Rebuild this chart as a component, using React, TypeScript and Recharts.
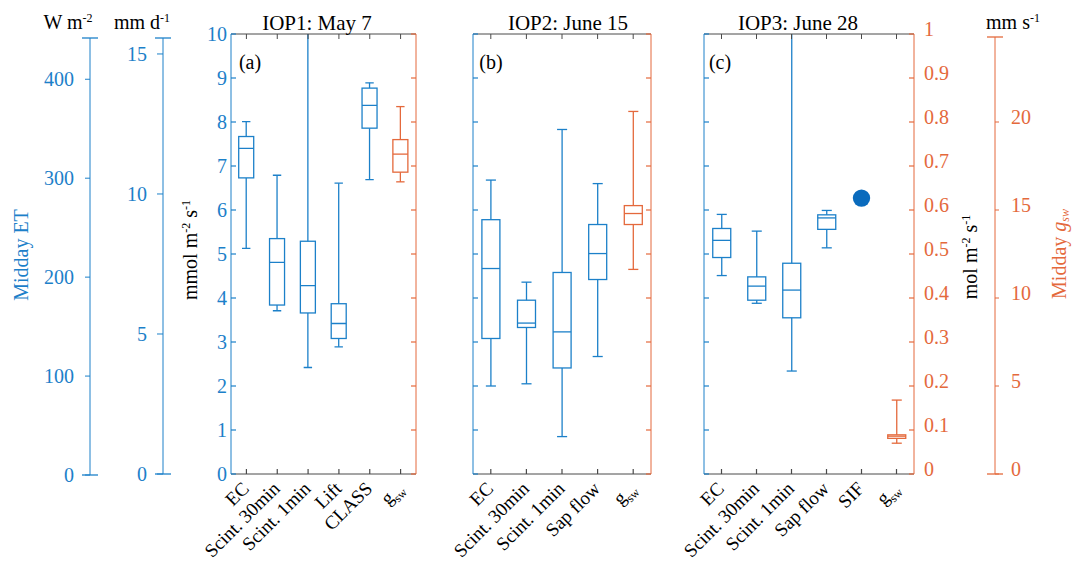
import React from 'react';
import { ComposedChart, Bar, Line, XAxis, YAxis } from 'recharts';

const SERIF = '"Liberation Serif", "Times New Roman", serif';
const BLUE = '#1c80c9';
const ORANGE = '#e4693c';
const DOT = '#0a6bbd';
const GRAY = '#4a4a4a';

// box stats: [whisker low, q1, median, q3, whisker high]
// ET in mmol m-2 s-1, g_sw in mol m-2 s-1
const iop1Cats = ['EC', 'Scint. 30min', 'Scint. 1min', 'Lift', 'CLASS', 'gsw'];
const iop1ET = [
  [5.13, 6.73, 7.4, 7.67, 8.01],
  [3.71, 3.84, 4.81, 5.35, 6.79],
  [2.42, 3.66, 4.28, 5.29, 11],
  [2.89, 3.08, 3.42, 3.87, 6.61],
  [6.69, 7.86, 8.38, 8.77, 8.89],
  null,
];
const iop1Gs = [0.664, 0.686, 0.727, 0.76, 0.835];

const iop2Cats = ['EC', 'Scint. 30min', 'Scint. 1min', 'Sap flow', 'gsw'];
const iop2ET = [
  [2.0, 3.08, 4.67, 5.78, 6.68],
  [2.05, 3.33, 3.43, 3.95, 4.36],
  [0.85, 2.41, 3.23, 4.58, 7.83],
  [2.67, 4.42, 5.01, 5.67, 6.6],
  null,
];
const iop2Gs = [0.465, 0.567, 0.592, 0.61, 0.824];

const iop3Cats = ['EC', 'Scint. 30min', 'Scint. 1min', 'Sap flow', 'SIF', 'gsw'];
const iop3ET = [
  [4.51, 4.92, 5.31, 5.58, 5.9],
  [3.88, 3.95, 4.27, 4.48, 5.52],
  [2.34, 3.55, 4.18, 4.79, 11],
  [5.14, 5.56, 5.82, 5.89, 5.99],
  null,
  null,
];
const iop3Sif = 6.27;
const iop3Gs = [0.07, 0.081, 0.086, 0.089, 0.168];

const etTicks = [0, 1, 2, 3, 4, 5, 6, 7, 8, 9, 10];
const molTicks = [0, 0.1, 0.2, 0.3, 0.4, 0.5, 0.6, 0.7, 0.8, 0.9, 1];
const wTicks = [0, 100, 200, 300, 400];
const mmdTicks = [0, 5, 10, 15];
const mmsTicks = [0, 5, 10, 15, 20];

function buildRows(cats: string[], et: (number[] | null)[], gs: number[], sif?: number) {
  return cats.map((name, i) => ({
    name,
    et: et[i] ? [et[i]![0], et[i]![4]] : null,
    etStats: et[i],
    gs: name === 'gsw' ? [gs[0], gs[4]] : null,
    gsStats: name === 'gsw' ? gs : null,
    sif: name === 'SIF' ? sif : null,
  }));
}

const abs: React.CSSProperties = { position: 'absolute', left: 0, top: 0, fontFamily: SERIF };
const noTick = () => <g />;

const boxShape = (key: string, color: string) => (props: any) => {
  const { x, y, width, height, payload } = props;
  const s = payload ? payload[key] : null;
  if (!s || !Number.isFinite(y) || !Number.isFinite(height)) return <g />;
  const top = Math.min(y, y + height);
  const bot = Math.max(y, y + height);
  const py = (v: number) => bot - ((v - s[0]) / (s[4] - s[0])) * (bot - top);
  const cx = x + width / 2;
  const cap = width * 0.28;
  return (
    <g stroke={color} strokeWidth={1.3} fill="none">
      <line x1={cx} x2={cx} y1={py(s[4])} y2={py(s[3])} />
      <line x1={cx} x2={cx} y1={py(s[1])} y2={py(s[0])} />
      <line x1={cx - cap} x2={cx + cap} y1={py(s[4])} y2={py(s[4])} />
      <line x1={cx - cap} x2={cx + cap} y1={py(s[0])} y2={py(s[0])} />
      <rect x={x} y={py(s[3])} width={width} height={py(s[1]) - py(s[3])} />
      <line x1={x} x2={x + width} y1={py(s[2])} y2={py(s[2])} />
    </g>
  );
};

// bottom category tick: inward tick mark plus rotated label
const CatTick = (props: any) => {
  const { x, y, payload } = props;
  const v = payload.value;
  return (
    <g>
      <line x1={x} x2={x} y1={y} y2={y - 5} stroke={GRAY} strokeWidth={1.2} />
      <g transform={`translate(${x - 1},${y + 11}) rotate(-45)`}>
        <text textAnchor="end" dy="0.35em" fill="#000" style={{ fontFamily: SERIF, fontSize: 19 }}>
          {v === 'gsw' ? (
            <>
              <tspan>g</tspan>
              <tspan fontSize={12} dy={5}>sw</tspan>
            </>
          ) : (
            v
          )}
        </text>
      </g>
    </g>
  );
};

// y tick: inward tick mark, optional outside label
const yTick = (side: string, gap: number, color: string, label: boolean, dy: number) => (p: any) => {
  const { x, y, payload } = p;
  const ax = side === 'left' ? x + gap : x - gap;
  const inner = side === 'left' ? ax + 5 : ax - 5;
  return (
    <g>
      <line x1={ax} x2={inner} y1={y} y2={y} stroke={color} strokeWidth={1.2} />
      {label && (
        <text
          x={x}
          y={y + dy}
          dy="0.35em"
          textAnchor={side === 'left' ? 'end' : 'start'}
          fill={color}
          style={{ fontFamily: SERIF, fontSize: 20 }}
        >
          {payload.value}
        </text>
      )}
    </g>
  );
};

// label only (tick line drawn by the axis itself)
const sideLabel = (side: string, color: string, dy: number) => (p: any) => (
  <text
    x={p.x}
    y={p.y + dy}
    dy="0.35em"
    textAnchor={side === 'left' ? 'end' : 'start'}
    fill={color}
    style={{ fontFamily: SERIF, fontSize: 20 }}
  >
    {p.payload.value}
  </text>
);

const sifDot = (p: any) =>
  Number.isFinite(p.cy) && p.payload && p.payload.sif != null ? (
    <circle key={p.index} cx={p.cx} cy={p.cy} r={8.7} fill={DOT} />
  ) : (
    <g key={p.index} />
  );

function Panel({ rows, plotLeft, plotRight, leftLabels, rightLabels, hasSif }: any) {
  const lw = leftLabels ? 40 : 1;
  const rw = rightLabels ? 50 : 1;
  return (
    <div style={abs}>
      <ComposedChart
        width={1073}
        height={562}
        data={rows}
        margin={{ top: 34, bottom: 8, left: plotLeft - lw, right: 1073 - plotRight - rw }}
        barCategoryGap="25%"
        barGap={0}
      >
        <XAxis xAxisId="b" dataKey="name" height={80} stroke={GRAY} tickLine={false} tickSize={0} tickMargin={0} interval={0} tick={CatTick} />
        <XAxis xAxisId="t" dataKey="name" orientation="top" mirror height={1} stroke={GRAY} tickSize={5} interval={0} tick={noTick} />
        <YAxis
          yAxisId="et"
          width={lw}
          domain={[0, 10]}
          ticks={etTicks}
          interval={0}
          allowDataOverflow
          stroke={BLUE}
          tickLine={false}
          tickSize={0}
          tickMargin={4}
          tick={yTick('left', 4, BLUE, !!leftLabels, 0)}
        />
        <YAxis
          yAxisId="gs"
          orientation="right"
          width={rw}
          domain={[0, 1]}
          ticks={molTicks}
          interval={0}
          stroke={ORANGE}
          tickLine={false}
          tickSize={0}
          tickMargin={10}
          tick={yTick('right', 10, ORANGE, !!rightLabels, -5)}
        />
        <Bar xAxisId="b" yAxisId="et" dataKey="et" shape={boxShape('etStats', BLUE)} isAnimationActive={false} />
        <Bar xAxisId="t" yAxisId="gs" dataKey="gs" shape={boxShape('gsStats', ORANGE)} isAnimationActive={false} />
        {hasSif && (
          <Line xAxisId="b" yAxisId="et" dataKey="sif" stroke="none" dot={sifDot} activeDot={false} isAnimationActive={false} />
        )}
      </ComposedChart>
    </div>
  );
}

// free-standing unit axis: spine, outward ticks, labels, plus end caps
function SideAxis({ axisX, top, bottom, orientation, max, ticks, color, tickSize, tickMargin, dy }: any) {
  const w = 50;
  const spine =
    orientation === 'left'
      ? { top, bottom: 562 - bottom, left: axisX - w, right: 1073 - axisX - 8 }
      : { top, bottom: 562 - bottom, left: axisX - 8, right: 1073 - axisX - w };
  const caps = { top, bottom: 562 - bottom, left: axisX - 8, right: 1073 - axisX - 8 };
  return (
    <>
      <div style={abs}>
        <ComposedChart width={1073} height={562} margin={spine}>
          <XAxis type="number" domain={[0, 1]} hide />
          <YAxis
            orientation={orientation}
            width={w}
            domain={[0, max]}
            ticks={ticks}
            interval={0}
            allowDataOverflow
            stroke={color}
            tickSize={tickSize}
            tickMargin={tickMargin}
            tick={sideLabel(orientation, color, dy)}
          />
        </ComposedChart>
      </div>
      <div style={abs}>
        <ComposedChart width={1073} height={562} margin={caps}>
          <XAxis xAxisId="cb" type="number" domain={[0, 1]} mirror height={1} stroke={color} strokeWidth={1.3} tickLine={false} tick={noTick} />
          <XAxis xAxisId="ct" type="number" domain={[0, 1]} orientation="top" mirror height={1} stroke={color} strokeWidth={1.3} tickLine={false} tick={noTick} />
          <YAxis domain={[0, max]} hide />
        </ComposedChart>
      </div>
    </>
  );
}

const Txt = ({ x, y, rot, color = '#000', size = 20, children }: any) => (
  <div
    style={{
      position: 'absolute',
      left: x,
      top: y,
      transform: `translate(-50%,-50%)${rot ? ' rotate(-90deg)' : ''}`,
      color,
      fontSize: size,
      fontFamily: SERIF,
      whiteSpace: 'nowrap',
      lineHeight: 1,
    }}
  >
    {children}
  </div>
);

const Sup = ({ children }: any) => <span style={{ fontSize: '0.6em', verticalAlign: '0.6em' }}>{children}</span>;

export default function App() {
  const rows1 = buildRows(iop1Cats, iop1ET, iop1Gs);
  const rows2 = buildRows(iop2Cats, iop2ET, iop2Gs);
  const rows3 = buildRows(iop3Cats, iop3ET, iop3Gs, iop3Sif);
  return (
    <div style={{ position: 'absolute', left: 0, top: 0, width: 1073, height: 562, background: '#fff', overflow: 'hidden' }}>
      <SideAxis axisX={90} top={38} bottom={475} orientation="left" max={441.7} ticks={wTicks} color={BLUE} tickSize={5} tickMargin={11} dy={0} />
      <SideAxis axisX={163} top={38} bottom={474} orientation="left" max={15.57} ticks={mmdTicks} color={BLUE} tickSize={6} tickMargin={10} dy={0} />
      <SideAxis axisX={995} top={37} bottom={474} orientation="right" max={24.83} ticks={mmsTicks} color={ORANGE} tickSize={4} tickMargin={12} dy={-5} />

      <Panel rows={rows1} plotLeft={231} plotRight={416} leftLabels />
      <Panel rows={rows2} plotLeft={473} plotRight={651} />
      <Panel rows={rows3} plotLeft={704} plotRight={914} rightLabels hasSif />

      <Txt x={68} y={22}>W m<Sup>-2</Sup></Txt>
      <Txt x={142} y={22}>mm d<Sup>-1</Sup></Txt>
      <Txt x={1013} y={22}>mm s<Sup>-1</Sup></Txt>

      <Txt x={317} y={23} size={21}>IOP1: May 7</Txt>
      <Txt x={568} y={23} size={21}>IOP2: June 15</Txt>
      <Txt x={798} y={23} size={21}>IOP3: June 28</Txt>

      <Txt x={250} y={62}>(a)</Txt>
      <Txt x={491} y={62}>(b)</Txt>
      <Txt x={720} y={62}>(c)</Txt>

      <Txt x={21} y={255} rot color={BLUE}>Midday ET</Txt>
      <Txt x={190} y={250} rot>mmol m<Sup>-2</Sup> s<Sup>-1</Sup></Txt>
      <Txt x={970} y={257} rot>mol m<Sup>-2</Sup> s<Sup>-1</Sup></Txt>
      <Txt x={1060} y={254} rot color={ORANGE}>
        Midday <i>g</i>
        <span style={{ fontSize: '0.6em', fontStyle: 'italic', verticalAlign: '-0.3em' }}>sw</span>
      </Txt>
    </div>
  );
}
